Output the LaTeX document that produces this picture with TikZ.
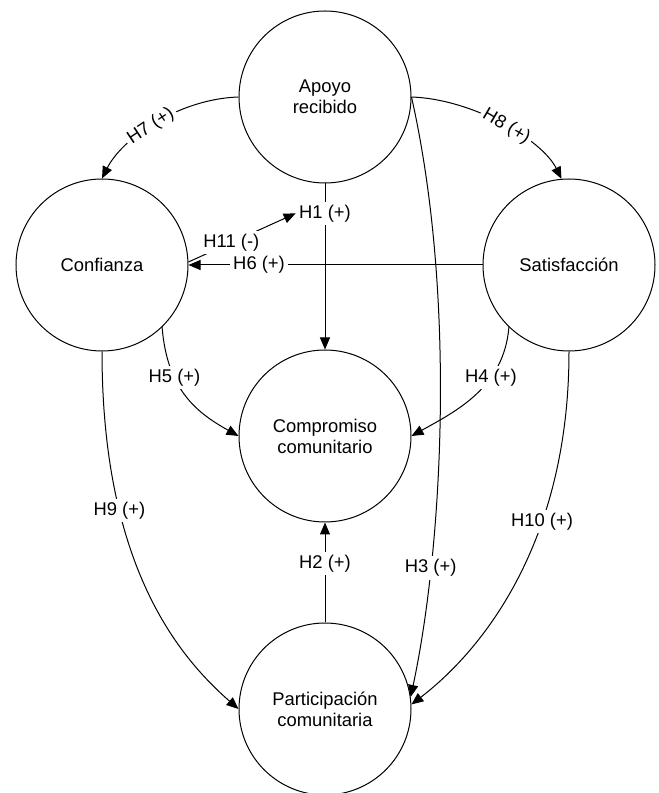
\documentclass[tikz,border=0pt]{standalone}
\usepackage{fontspec}
\setmainfont{Liberation Sans}
\usetikzlibrary{arrows.meta}
\tikzset{
  hconstruct/.style={
    draw,
    circle,
    minimum size=86pt,
    inner sep=0pt,
    align=center,
    line width=0.5pt
  },
  hpath/.style={-{Triangle[length=6pt,width=5pt]}, line width=0.5pt},
  hlabel/.style={fill=white, inner sep=1.5pt}
}

\begin{document}
\begin{tikzpicture}[x=0.5pt, y=0.5pt, font=\fontsize{9.2}{10.5}\selectfont]
\useasboundingbox (0,0) rectangle (659,793);
\node[hconstruct] (apoyo) at (325,696) {Apoyo\\recibido};
\node[hconstruct] (conf) at (102,528) {Confianza};
\node[hconstruct] (sat) at (569,528) {Satisfacción};
\node[hconstruct] (comp) at (325,357) {Compromiso\\comunitario};
\node[hconstruct] (part) at (325,84) {Participación\\comunitaria};
% hypotheses
\draw[hpath] (apoyo.west) .. controls +(-60,-2) and +(20,40) .. node[hlabel, sloped, pos=0.53] {H7 (+)} (conf.north);
\draw[hpath] (apoyo.east) .. controls +(60,-2) and +(-20,40) .. node[hlabel, sloped, pos=0.53] {H8 (+)} (sat.95);
\draw[hpath] (apoyo.south) -- node[hlabel, pos=0.18] (h1lab) {H1 (+)} (comp.north);
\draw[hpath] (part.north) -- node[hlabel, pos=0.59] {H2 (+)} (comp.south);
\draw[hpath] (apoyo.east) .. controls +(45,-200) and +(32,150) .. node[hlabel, pos=0.75] {H3 (+)} (part.8);
\draw[hpath] (sat.-134) .. controls +(-5,-60) and +(45,25) .. node[hlabel, pos=0.34] {H4 (+)} (comp.east);
\draw[hpath] (conf.-46) .. controls +(5,-60) and +(-45,25) .. node[hlabel, pos=0.34] {H5 (+)} (comp.west);
\draw[hpath] (sat.west) -- node[hlabel, pos=0.76] {H6 (+)} (conf.east);
\draw[hpath] (conf.south) .. controls +(0,-209) and +(-64,56) .. node[hlabel, pos=0.3] {H9 (+)} (part.west);
\draw[hpath] (sat.south) .. controls +(0,-189) and +(73,56) .. node[hlabel, pos=0.35] {H10 (+)} (part.3);
\draw[hpath] (conf.2) -- node[hlabel, pos=0.4] {H11 (-)} (h1lab.west);
\end{tikzpicture}
\end{document}
